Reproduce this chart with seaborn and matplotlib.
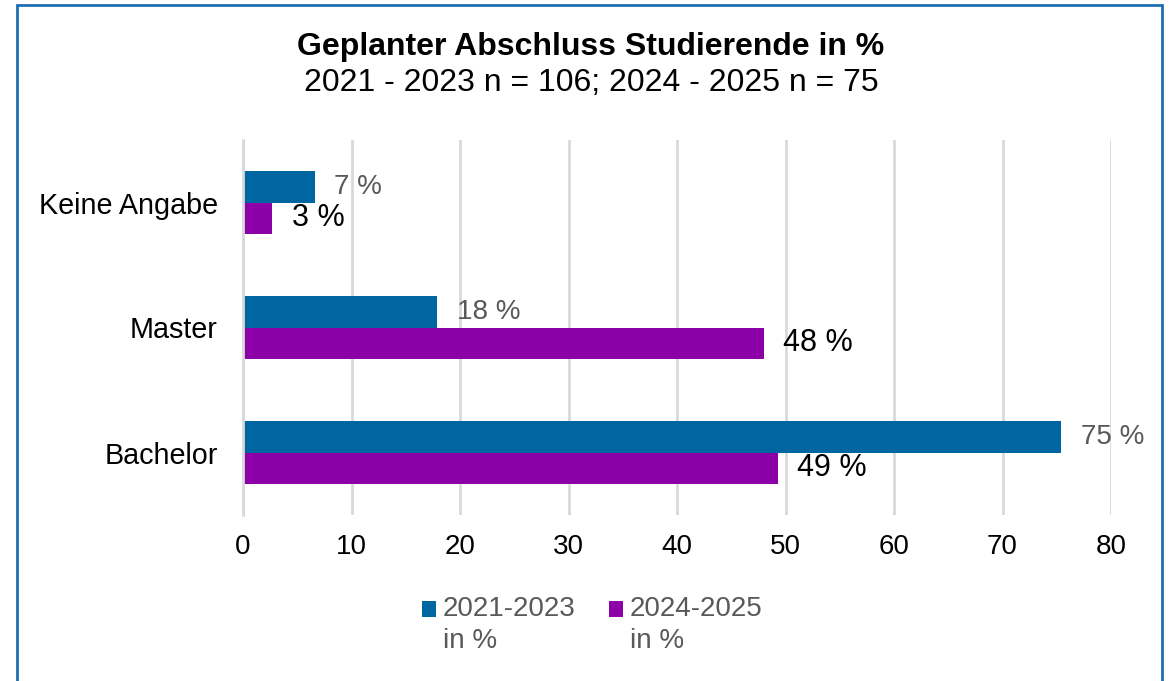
import matplotlib
matplotlib.use("Agg")
import matplotlib.pyplot as plt
import seaborn as sns
import pandas as pd
from matplotlib.patches import Patch, Rectangle
from matplotlib.legend_handler import HandlerPatch

# ---- data ----
categories = ["Keine Angabe", "Master", "Bachelor"]
series_names = ["2021-2023\nin %", "2024-2025\nin %"]
values_2021_2023 = [6.6, 17.9, 75.4]
values_2024_2025 = [2.7, 48.0, 49.3]
labels_2021_2023 = ["7 %", "18 %", "75 %"]
labels_2024_2025 = ["3 %", "48 %", "49 %"]
x_ticks = [0, 10, 20, 30, 40, 50, 60, 70, 80]
title = "Geplanter Abschluss Studierende in %"
subtitle = "2021 - 2023 n = 106; 2024 - 2025 n = 75"

colors = ["#0066A1", "#8C00A8"]

df = pd.DataFrame({
    "Abschluss": categories * 2,
    "Wert": values_2021_2023 + values_2024_2025,
    "Zeitraum": [series_names[0]] * len(categories) + [series_names[1]] * len(categories),
})

sns.set_theme(style="white")
plt.rcParams["font.family"] = ["Liberation Sans", "DejaVu Sans"]
plt.rcParams["text.color"] = "black"

fig = plt.figure(figsize=(11.7, 6.81), dpi=100)
ax = fig.add_axes([243 / 1170, 1 - 515 / 681, 868 / 1170, 375 / 681])

sns.barplot(data=df, y="Abschluss", x="Wert", hue="Zeitraum", order=categories,
            hue_order=series_names, palette=colors, orient="h", width=0.51,
            saturation=1, legend=False, linewidth=0, ax=ax)

ax.set_xlim(0, 80)
ax.set_ylim(len(categories) - 0.5, -0.5)
ax.set_xticks(x_ticks)
ax.set_xticklabels([str(t) for t in x_ticks])
ax.set_xlabel("")
ax.set_ylabel("")
ax.grid(axis="x", color="#d9d9d9", lw=2)
ax.grid(axis="y", visible=False)
ax.set_axisbelow(True)
for s in ["top", "right", "bottom"]:
    ax.spines[s].set_visible(False)
ax.spines["left"].set_color("#d9d9d9")
ax.spines["left"].set_linewidth(2)

ax.tick_params(axis="x", length=0, pad=14, labelsize=20, labelcolor="black")
ax.tick_params(axis="y", which="major", length=0, pad=18, labelsize=20.7, labelcolor="black")
ax.set_yticks([i - 0.5 for i in range(len(categories) + 1)], minor=True)
ax.tick_params(axis="y", which="minor", length=8, width=2, color="#d9d9d9", direction="out")

ax.bar_label(ax.containers[0], labels=labels_2021_2023, padding=14, color="#595959", fontsize=20)
ax.bar_label(ax.containers[1], labels=labels_2024_2025, padding=14, color="black", fontsize=22)

fig.text(0.505, 1 - 47 / 681, title, ha="center", va="center", fontsize=23,
         fontweight="bold", color="black")
fig.text(0.505, 1 - 83 / 681, subtitle, ha="center", va="center", fontsize=23, color="black")


def top_patch(legend, orig_handle, xdescent, ydescent, width, height, fontsize):
    return Rectangle((-xdescent, -ydescent + 0.42 * fontsize * 1.389), width, height)


handles = [Patch(facecolor=c, edgecolor="none") for c in colors]
leg = fig.legend(handles, series_names, loc="upper left",
                 bbox_to_anchor=(422 / 1170, 1 - 596 / 681),
                 ncol=2, frameon=False, fontsize=20, labelcolor="#595959",
                 handlelength=0.5, handleheight=0.5, handletextpad=0.25, columnspacing=1.2,
                 borderaxespad=0, borderpad=0,
                 handler_map={Patch: HandlerPatch(patch_func=top_patch)})
for t in leg.get_texts():
    t.set_linespacing(1.3)

fig.add_artist(Rectangle((17 / 1170, -0.05), (1162 - 17) / 1170, 1.05 - 5 / 681,
                         transform=fig.transFigure, fill=False, edgecolor="#1F6FB2", lw=2))

fig.savefig("out.png", dpi=100)
